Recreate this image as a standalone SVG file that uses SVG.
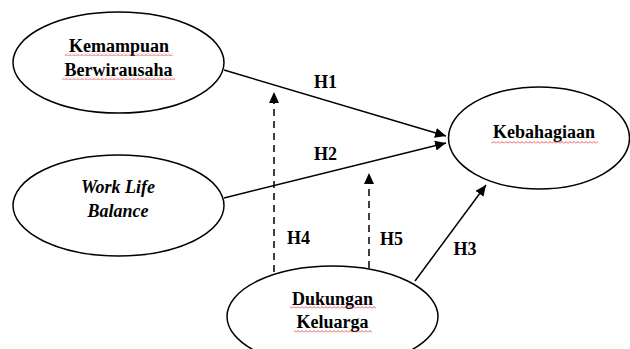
<svg xmlns="http://www.w3.org/2000/svg" width="630" height="349" viewBox="0 0 630 349">
<style>
  .node { fill: #ffffff; stroke: #000000; stroke-width: 1.5; }
  .lbl { font-family: "Liberation Serif", "Times New Roman", serif; font-weight: bold; font-size: 18px; fill: #000000; text-anchor: middle; }
  .it { font-style: italic; }
  .edge { stroke: #000000; stroke-width: 1.5; fill: none; }
  .dash { stroke-dasharray: 7 5; }
  .sq { fill: url(#squig); }
</style>
<defs>
  <marker id="arrow" markerUnits="userSpaceOnUse" markerWidth="12" markerHeight="10" refX="11" refY="5" orient="auto">
    <path d="M0,0 L11,5 L0,10 Z" fill="#000000"/>
  </marker>
  <pattern id="squig" patternUnits="userSpaceOnUse" width="4" height="3">
    <path d="M0,2.5 L2,0.5 L4,2.5" fill="none" stroke="#e03030" stroke-width="0.8"/>
  </pattern>
</defs>
<rect width="630" height="349" fill="#ffffff"/>
<g id="connectors">
  <path class="edge" d="M224,70 L446,136" marker-end="url(#arrow)"/>
  <path class="edge" d="M224,198 L446,143" marker-end="url(#arrow)"/>
  <path class="edge" d="M415,281 L486,185" marker-end="url(#arrow)"/>
  <path class="edge dash" d="M274,272 L274,92" marker-end="url(#arrow)"/>
  <path class="edge dash" d="M369,268 L369,173" marker-end="url(#arrow)"/>
  <text class="lbl" x="325.5" y="88">H1</text>
  <text class="lbl" x="325.5" y="160">H2</text>
  <text class="lbl" x="465" y="255">H3</text>
  <text class="lbl" x="298.5" y="244">H4</text>
  <text class="lbl" x="391.5" y="245">H5</text>
</g>
<g id="kemampuan">
  <ellipse class="node" cx="118.5" cy="62.5" rx="105.5" ry="50.5"/>
  <text class="lbl" x="119" y="52">Kemampuan</text>
  <text class="lbl" x="118.5" y="76">Berwirausaha</text>
  <rect class="sq" x="65" y="53" width="108" height="3"/>
  <rect class="sq" x="62" y="77" width="113" height="3"/>
</g>
<g id="worklife">
  <ellipse class="node" cx="118.5" cy="205.5" rx="105.5" ry="50.5"/>
  <text class="lbl it" x="118" y="193">Work Life</text>
  <text class="lbl it" x="118" y="217">Balance</text>
</g>
<g id="kebahagiaan">
  <ellipse class="node" cx="539" cy="138" rx="90.5" ry="51"/>
  <text class="lbl" x="544" y="138">Kebahagiaan</text>
  <rect class="sq" x="491" y="141" width="107" height="3"/>
</g>
<g id="dukungan">
  <ellipse class="node" cx="332.5" cy="316.5" rx="105.5" ry="50.5"/>
  <text class="lbl" x="332.5" y="305">Dukungan</text>
  <text class="lbl" x="332.5" y="328">Keluarga</text>
  <rect class="sq" x="290" y="306" width="86" height="3"/>
  <rect class="sq" x="294" y="330" width="78" height="3"/>
</g>
</svg>
